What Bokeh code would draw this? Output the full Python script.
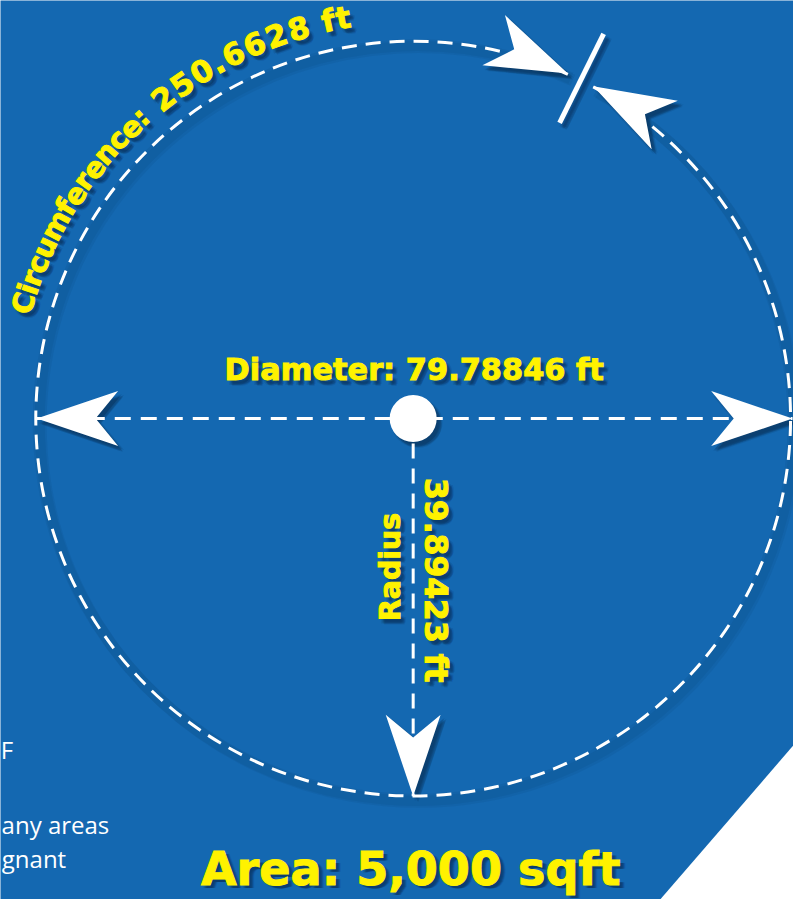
import math
from bokeh.plotting import figure
from bokeh.models import Range1d, ColumnDataSource
from bokeh.core.properties import value
from bokeh.embed import file_html
from bokeh.resources import INLINE

# ---------------- data ----------------
area_sqft = 5000
diameter_ft = 79.78846
radius_ft = 39.89423
circumference_ft = 250.6628

circ_word = "Circumference:"
circ_value = f" {circumference_ft:.4f} ft"
diam_label = f"Diameter: {diameter_ft:.5f} ft"
rad_word = "Radius"
rad_label = f"{radius_ft:.5f} ft"
area_label = f"Area: {area_sqft:,} sqft"
side_lines = ["F", "any areas", "gnant"]

# ---------------- layout / style ----------------
PW, PH = 809, 915          # design space (reference pixels)
FW, FH = 793, 899          # figure size (fits window with 8px margin)
S = FW / PW                # font scale
BLUE = "#1468b1"
YEL = "#fff200"
SH = "#06264a"
FONT = value("DejaVu Sans")


def Y(y):
    return PH - y


def fs(px):
    return f"{px * S:.1f}px"


p = figure(width=FW, height=FH,
           x_range=Range1d(0, PW), y_range=Range1d(0, PH),
           x_axis_type=None, y_axis_type=None,
           output_backend="svg", toolbar_location=None, min_border=0)
p.background_fill_color = BLUE
p.border_fill_color = BLUE
p.outline_line_color = None

CX, CY, R = 421, Y(425.5), 385
SHADOW_OFFS = [(3, -4), (5, -6), (4, -3), (2, -5), (6, -4), (4, -5), (5, -5)]

# white corner
p.patch([809, 809, 673], [Y(758), Y(915), Y(915)], fill_color="white", line_color=None)

# side paragraph fragments
side_x = [13, 111, 67]
side_y = [Y(762), Y(839), Y(873)]
p.text(x=side_x, y=side_y, text=side_lines, text_color="white", text_font=value("Open Sans"),
       text_font_size=fs(24.5), text_align="right", text_baseline="middle")


def arrow(tx, ty, ang, L=83, Wd=28, N=60):
    ux, uy = math.cos(ang), math.sin(ang)
    px, py = -uy, ux
    xs = [tx, tx - L * ux + Wd * px, tx - N * ux, tx - L * ux - Wd * px]
    ys = [ty, ty - L * uy + Wd * py, ty - N * uy, ty - L * uy - Wd * py]
    return xs, ys


t1 = math.radians(65.8)
t2 = math.radians(61.5)
tt = math.radians(63.6)
arrows = [
    arrow(37, CY, math.pi),
    arrow(808, CY, 0.0),
    arrow(421, Y(810), -math.pi / 2),
    arrow(CX + R * math.cos(t1), CY + R * math.sin(t1), t1 - math.pi / 2),
    arrow(CX + R * math.cos(t2), CY + R * math.sin(t2), t2 + math.pi / 2),
]
axs = [a[0] for a in arrows]
ays = [a[1] for a in arrows]

# ---------- shadows ----------
for dx, dy in [(3, -4), (5, -6)]:
    p.arc(x=CX + dx, y=CY + dy, radius=R, start_angle=t1, end_angle=t2, direction="anticlock",
          line_color=SH, line_width=12, line_alpha=0.07)
for dx, dy in SHADOW_OFFS:
    p.patches([[x + dx for x in xs] for xs in axs], [[y + dy for y in ys] for ys in ays],
              fill_color=SH, fill_alpha=0.12, line_color=None)
    p.circle(x=CX + dx, y=CY + dy, radius=24, fill_color=SH, fill_alpha=0.12, line_color=None)
    p.segment(x0=CX + 336 * math.cos(tt) + dx, y0=CY + 336 * math.sin(tt) + dy,
              x1=CX + 437 * math.cos(tt) + dx, y1=CY + 437 * math.sin(tt) + dy,
              line_color=SH, line_width=5, line_alpha=0.1)

# ---------- lines ----------
p.arc(x=CX, y=CY, radius=R, start_angle=t1, end_angle=t2, direction="anticlock",
      line_color="white", line_width=3, line_dash="15 9")
p.line([37, 808], [CY, CY], line_color="white", line_width=3, line_dash="16 10")
p.line([421, 421], [CY, Y(810)], line_color="white", line_width=3, line_dash="15 10")
p.segment(x0=CX + 336 * math.cos(tt), y0=CY + 336 * math.sin(tt),
          x1=CX + 437 * math.cos(tt), y1=CY + 437 * math.sin(tt),
          line_color="white", line_width=5)
p.patches(axs, ays, fill_color="white", line_color=None)
p.circle(x=CX, y=CY, radius=24, fill_color="white", line_color=None)

# ---------- curved circumference label ----------
EM = {"C": .734, "i": .343, "r": .493, "c": .593, "u": .712, "m": 1.042, "f": .435,
      "e": .678, "n": .712, ":": .400, " ": .348, ".": .381, "t": .478}
for d in "0123456789":
    EM[d] = .696
Rb = 402   # baseline radius (for advances)
Rm = 414   # radius of the text's middle line
cx_l, cy_l, ch_l, an_l, sz_l = [], [], [], [], []
for seg, a0, a1, size in [(circ_word, 165.0, 131.3, 29), (circ_value, 131.3, 98.8, 31)]:
    widths = [EM[c] * size for c in seg]
    arc_len = math.radians(a0 - a1) * Rb
    k = arc_len / sum(widths)
    cum = 0.0
    for c, w in zip(seg, widths):
        pos = (cum + w / 2) * k
        th = math.radians(a0) - pos / Rb
        cum += w
        if c == " ":
            continue
        cx_l.append(CX + Rm * math.cos(th))
        cy_l.append(CY + Rm * math.sin(th))
        ch_l.append(c)
        an_l.append(th - math.pi / 2)
        sz_l.append(fs(size))
csrc = ColumnDataSource(dict(x=cx_l, y=cy_l, text=ch_l, angle=an_l, size=sz_l))

labels = [
    dict(x=422, y=Y(376), text=diam_label, size=fs(31), angle=0.0),
    dict(x=397.5, y=Y(576.5), text=rad_word, size=fs(29), angle=math.pi / 2),
    dict(x=444.5, y=Y(590), text=rad_label, size=fs(32), angle=-math.pi / 2),
    dict(x=418.5, y=Y(884), text=area_label, size=fs(47), angle=0.0),
]

for dx, dy in SHADOW_OFFS:
    sh = ColumnDataSource(dict(x=[v + dx for v in cx_l], y=[v + dy for v in cy_l], text=ch_l,
                               angle=an_l, size=sz_l))
    p.text(x="x", y="y", text="text", angle="angle", text_font_size="size", source=sh,
           text_font=FONT, text_font_style="bold", text_color=SH, text_alpha=0.12,
           text_align="center", text_baseline="middle")
    for lb in labels:
        ddy = max(dy, -3) if lb["text"] == area_label else dy
        p.text(x=[lb["x"] + dx], y=[lb["y"] + ddy], text=[lb["text"]], angle=lb["angle"],
               text_font=FONT, text_font_style="bold", text_font_size=lb["size"],
               text_color=SH, text_alpha=0.12, text_align="center", text_baseline="middle")

p.text(x="x", y="y", text="text", angle="angle", text_font_size="size", source=csrc,
       text_font=FONT, text_font_style="bold", text_color=YEL, text_outline_color=YEL,
       text_align="center", text_baseline="middle")
for lb in labels:
    p.text(x=[lb["x"]], y=[lb["y"]], text=[lb["text"]], angle=lb["angle"],
           text_font=FONT, text_font_style="bold", text_font_size=lb["size"],
           text_color=YEL, text_outline_color=YEL, text_align="center", text_baseline="middle")

open("out.html", "w").write(file_html(p, INLINE, title="Circle 5000 sqft"))
